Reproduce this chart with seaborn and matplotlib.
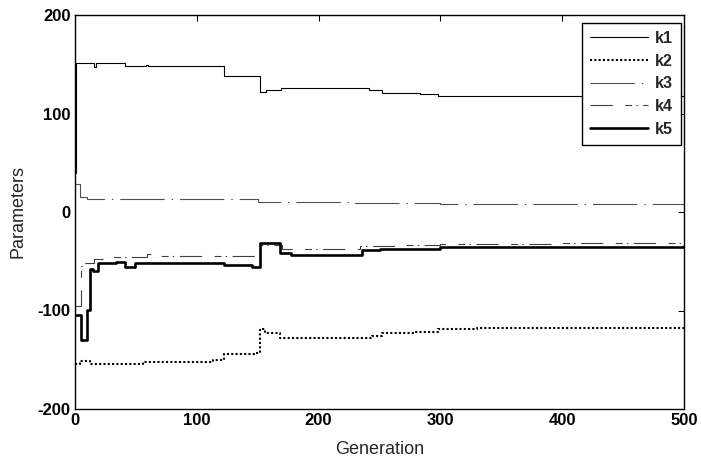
import numpy as np
import pandas as pd
import matplotlib
matplotlib.use("Agg")
import matplotlib.pyplot as plt
import seaborn as sns

# ---- data (step breakpoints) ----
k1_x = [0, 1, 16, 17, 41, 58, 60, 122, 152, 157, 169, 241, 252, 265, 283, 298, 323, 500]
k1_y = [40, 151, 147, 151, 148.5, 149.5, 148, 138, 122, 124, 126, 123.5, 121, 121, 119.5, 118, 117.5, 117.5]

k2_x = [0, 4, 12, 56, 113, 122, 149, 152, 156, 168, 244, 252, 278, 298, 330, 500]
k2_y = [-154, -151, -154.7, -152.3, -150.6, -143.8, -142.8, -119, -122.5, -127.6, -126, -123, -121.5, -119, -117.5, -116]

k3_x = [0, 4, 10, 60, 150, 225, 300, 500]
k3_y = [28, 15, 13.5, 13, 10.5, 9, 8, 8]

k4_x = [0, 5, 8, 16, 30, 59, 62, 152, 170, 234, 262, 300, 400, 500]
k4_y = [-95, -55, -52, -48, -46, -43, -45, -34, -37.5, -35, -33.5, -32, -31, -30]

k5_x = [0, 5, 9.5, 12, 15, 19, 34, 41, 49, 122, 145, 152, 168, 177, 236, 250, 300, 500]
k5_y = [-105, -130, -99, -58, -60, -52, -51, -56, -52, -54, -56, -31, -41.5, -44, -39, -38, -36, -35]

names = ["k1", "k2", "k3", "k4", "k5"]
xs = [k1_x, k2_x, k3_x, k4_x, k5_x]
ys = [k1_y, k2_y, k3_y, k4_y, k5_y]

x_ticks = [0, 100, 200, 300, 400, 500]
y_ticks = [-200, -100, 0, 100, 200]

# ---- styles ----
styles = {
    "k1": dict(color="black", lw=0.8, ls="-"),
    "k2": dict(color="black", lw=1.5, ls=(0, (1.5, 1.6))),
    "k3": dict(color="#505050", lw=0.8, ls=(0, (32, 5, 1, 5))),
    "k4": dict(color="#404040", lw=0.8, ls=(0, (16, 9, 5, 3, 1, 4))),
    "k5": dict(color="black", lw=1.9, ls="-"),
}

sns.set_style("white")
plt.rcParams["font.family"] = ["Liberation Sans", "DejaVu Sans"]
plt.rcParams["lines.scale_dashes"] = False

fig = plt.figure(figsize=(7.01, 4.59), dpi=100)
ax = fig.add_axes([75 / 701, 1 - 409 / 459, 609 / 701, 394 / 459])

handles = []
for name, x, y in zip(names, xs, ys):
    df = pd.DataFrame({"Generation": x, "Parameters": y})
    st = styles[name]
    sns.lineplot(data=df, x="Generation", y="Parameters", ax=ax,
                 estimator=None, sort=False, drawstyle="steps-post",
                 color=st["color"], linewidth=st["lw"], label=name)
    line = ax.lines[-1]
    line.set_linestyle(st["ls"])
    handles.append(line)

ax.set_xlim(0, 500)
ax.set_ylim(-200, 200)
ax.set_xticks(x_ticks)
ax.set_yticks(y_ticks)
ax.set_xticklabels([str(v) for v in x_ticks], fontweight="bold")
ax.set_yticklabels([str(v) for v in y_ticks], fontweight="bold")
ax.tick_params(direction="in", length=4, width=0.75, top=True, right=True,
               labelsize=12, pad=3, colors="black")
ax.set_xlabel("Generation", fontsize=13, labelpad=9)
ax.set_ylabel("Parameters", fontsize=13, labelpad=8)
for sp in ax.spines.values():
    sp.set_color("black")
    sp.set_linewidth(1.0)

leg = ax.legend(handles, names, loc="upper right",
                bbox_to_anchor=((681 - 75) / 609, (409 - 23) / 394),
                borderaxespad=0, frameon=True, fancybox=False,
                edgecolor="black", framealpha=1, handlelength=3.6,
                handletextpad=0.45, borderpad=0.5, labelspacing=0.48,
                prop=dict(weight="bold", size=11.5))
leg.get_frame().set_linewidth(1.0)

fig.savefig("out.png", dpi=100)
